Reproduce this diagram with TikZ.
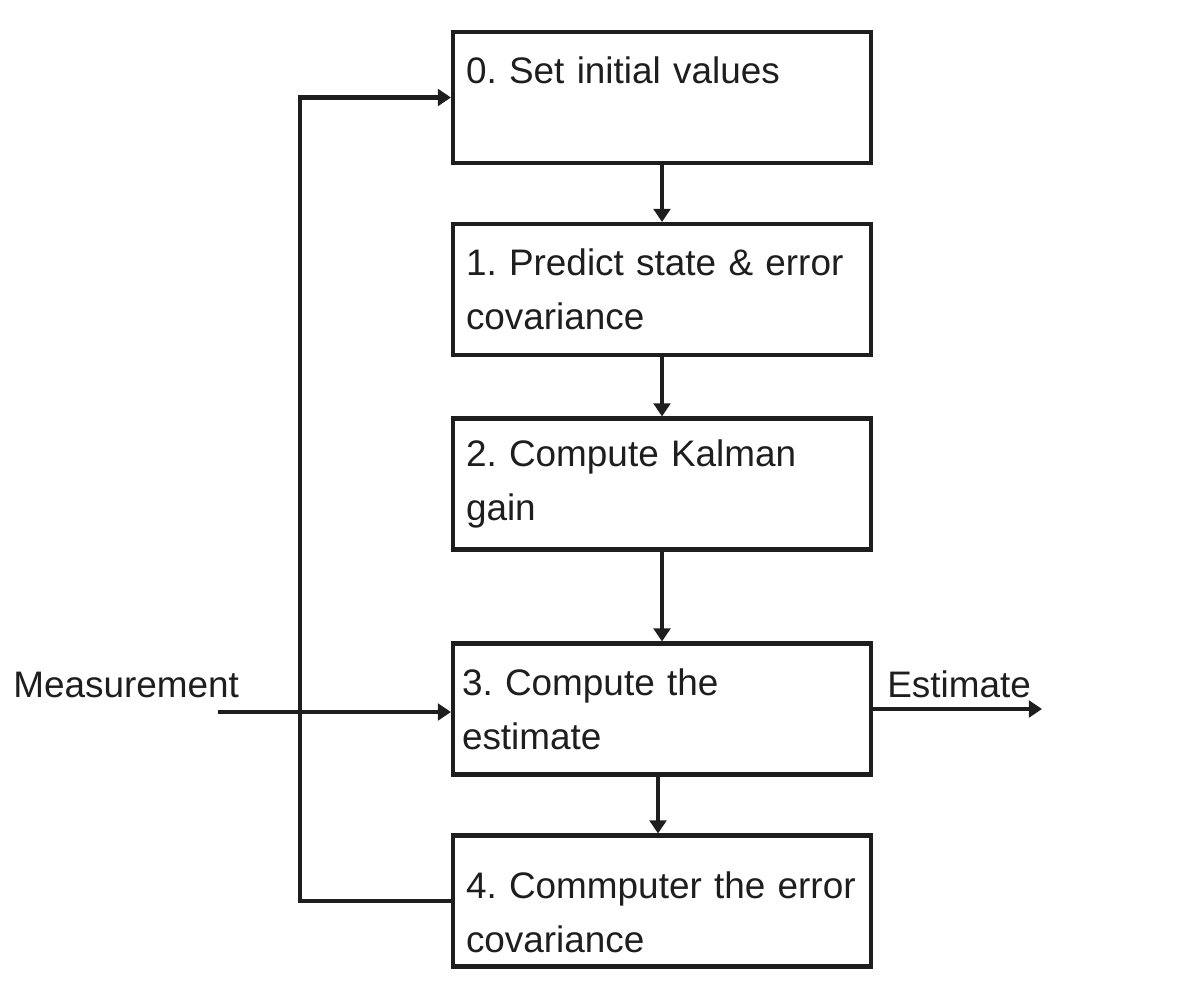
\documentclass[tikz,border=0pt]{standalone}
\usepackage{fontspec}
\setmainfont{Liberation Sans}
\usepackage{tikz}
\usetikzlibrary{positioning,arrows.meta,calc}
\definecolor{ink}{HTML}{1E1E1E}

\begin{document}
\begin{tikzpicture}[
  stepbox/.style={draw=ink, line width=2.3pt, text=ink, minimum width=8.36cm,
    minimum height=2.62cm, text width=7.84cm, inner xsep=0.26cm, align=left,
    font=\fontsize{21}{30.6}\selectfont\frenchspacing},
  flow/.style={draw=ink, line width=2.3pt, -{Triangle[length=7.5pt,width=9.5pt]}},
  lbl/.style={text=ink, inner sep=0pt, font=\fontsize{21}{30.6}\selectfont}
]
  \useasboundingbox (0,0) rectangle (23.56,-19.94);

  % Steps of the filter
  \node[stepbox] (s0) at (13.24,-1.95)  {0. Set initial values\\ \mbox{}};
  \node[stepbox] (s1) at (13.24,-5.79)  {1. Predict state \& error\\ covariance};
  \node[stepbox] (s2) at (13.24,-9.68)  {2. Compute Kalman\\ gain};
  \node[stepbox, inner xsep=0.18cm, text width=8cm] (s3) at (13.24,-14.18)
    {3. Compute the\\ estimate};
  \node[stepbox] (s4) at (13.24,-18.02)
    {\rule{0pt}{1cm}\mbox{4. Commputer the error}\\ covariance};

  % Forward arrows
  \draw[flow] (s0) -- (s1);
  \draw[flow] (s1) -- (s2);
  \draw[flow] (s2) -- (s3);
  \draw[flow] ([xshift=-0.08cm]s3.south) -- ([xshift=-0.08cm]s4.north);

  % Input and output
  \node[lbl, anchor=base west] (meas) at (0.26,-13.94) {Measurement};
  \coordinate (min) at (4.36,-14.24);
  \draw[flow] (min) -- (min -| s3.west);

  \node[lbl, anchor=base west] (est) at (17.74,-13.94) {Estimate};
  \coordinate (eout) at (20.84,-14.18);
  \draw[flow] (s3.east) -- (eout);

  % Feedback loop
  \coordinate (loopx) at (6.0,0);
  \draw[flow] (s4.west) -- (s4.west -| loopx) |- (s0.west);
\end{tikzpicture}
\end{document}
